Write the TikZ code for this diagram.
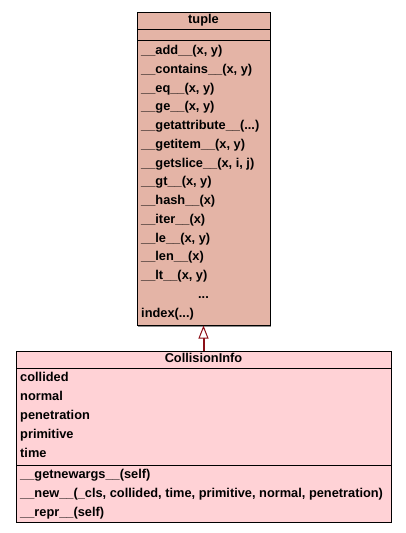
\documentclass[tikz,border=0pt]{standalone}
\usepackage{fontspec}
\setmainfont{Liberation Sans}
\usetikzlibrary{positioning,calc,arrows.meta,shadows}
\definecolor{tuplefill}{RGB}{228,180,166}
\definecolor{infofill}{RGB}{255,210,214}
\definecolor{inherit}{RGB}{140,16,24}
\newcommand{\dotdotdot}{...}
\tikzset{
	compartment/.style={draw=black,line width=1pt,inner sep=0pt,outer sep=0pt,
		text height=9pt,text depth=2.5pt,
		drop shadow={shadow xshift=1pt,shadow yshift=-1pt,fill=black!45,opacity=1}},
	umlfont/.style={font=\bfseries\fontsize{12.8}{12.8}\selectfont},
	member/.style={umlfont,anchor=base west,inner sep=0pt},
}

\begin{document}
	\begin{tikzpicture}[x=1pt,y=1pt,umlfont]
		\useasboundingbox (0,0) rectangle (405,-533);
		%
		\node[compartment,fill=tuplefill,minimum width=133pt,minimum height=17pt] (tuplehead) at (203.5,-20.5) {tuple};
		\node[compartment,fill=tuplefill,minimum width=133pt,minimum height=6pt,below=0pt of tuplehead] (tupleattr) {};
		\node[compartment,fill=tuplefill,minimum width=133pt,minimum height=285pt,below=0pt of tupleattr] (tupleops) {};
		\foreach \op [count=\i from 0] in {{\_\_add\_\_(x, y)},{\_\_contains\_\_(x, y)},{\_\_eq\_\_(x, y)},{\_\_ge\_\_(x, y)},
			{\_\_getattribute\_\_(\dotdotdot)},{\_\_getitem\_\_(x, y)},{\_\_getslice\_\_(x, i, j)},{\_\_gt\_\_(x, y)},
			{\_\_hash\_\_(x)},{\_\_iter\_\_(x)},{\_\_le\_\_(x, y)},{\_\_len\_\_(x)},{\_\_lt\_\_(x, y)}}
			\node[member] (op\i) at ($(tupleops.north west)+(4,-14-18.75*\i)$) {\op};
		\node[member,anchor=base] (opdots) at ($(tupleops.north)+(0,-14-18.75*13)$) {...};
		\node[member] (opindex) at ($(tupleops.north west)+(4,-14-18.75*14)$) {index(...)};
		%
		\node[compartment,fill=infofill,minimum width=375pt,minimum height=17pt] (infohead) at (203.5,-359.5) {CollisionInfo};
		\node[compartment,fill=infofill,minimum width=375pt,minimum height=97pt,below=0pt of infohead] (infoattr) {};
		\node[compartment,fill=infofill,minimum width=375pt,minimum height=57pt,below=0pt of infoattr] (infoops) {};
		\foreach \attr [count=\i from 0] in {collided,normal,penetration,primitive,time}
			\node[member] (attr\i) at ($(infoattr.north west)+(4,-13-19*\i)$) {\attr};
		\foreach \op [count=\i from 0] in {{\_\_getnewargs\_\_(self)},
			{\_\_new\_\_(\_cls, collided, time, primitive, normal, penetration)},{\_\_repr\_\_(self)}}
			\node[member] (meth\i) at ($(infoops.north west)+(4,-13.5-19*\i)$) {\op};
		%
		\draw[inherit,line width=2pt,-{Triangle[open,length=13pt,width=10pt,line width=1pt,fill=white]}] (infohead.north) -- (tupleops.south);
	\end{tikzpicture}
\end{document}
